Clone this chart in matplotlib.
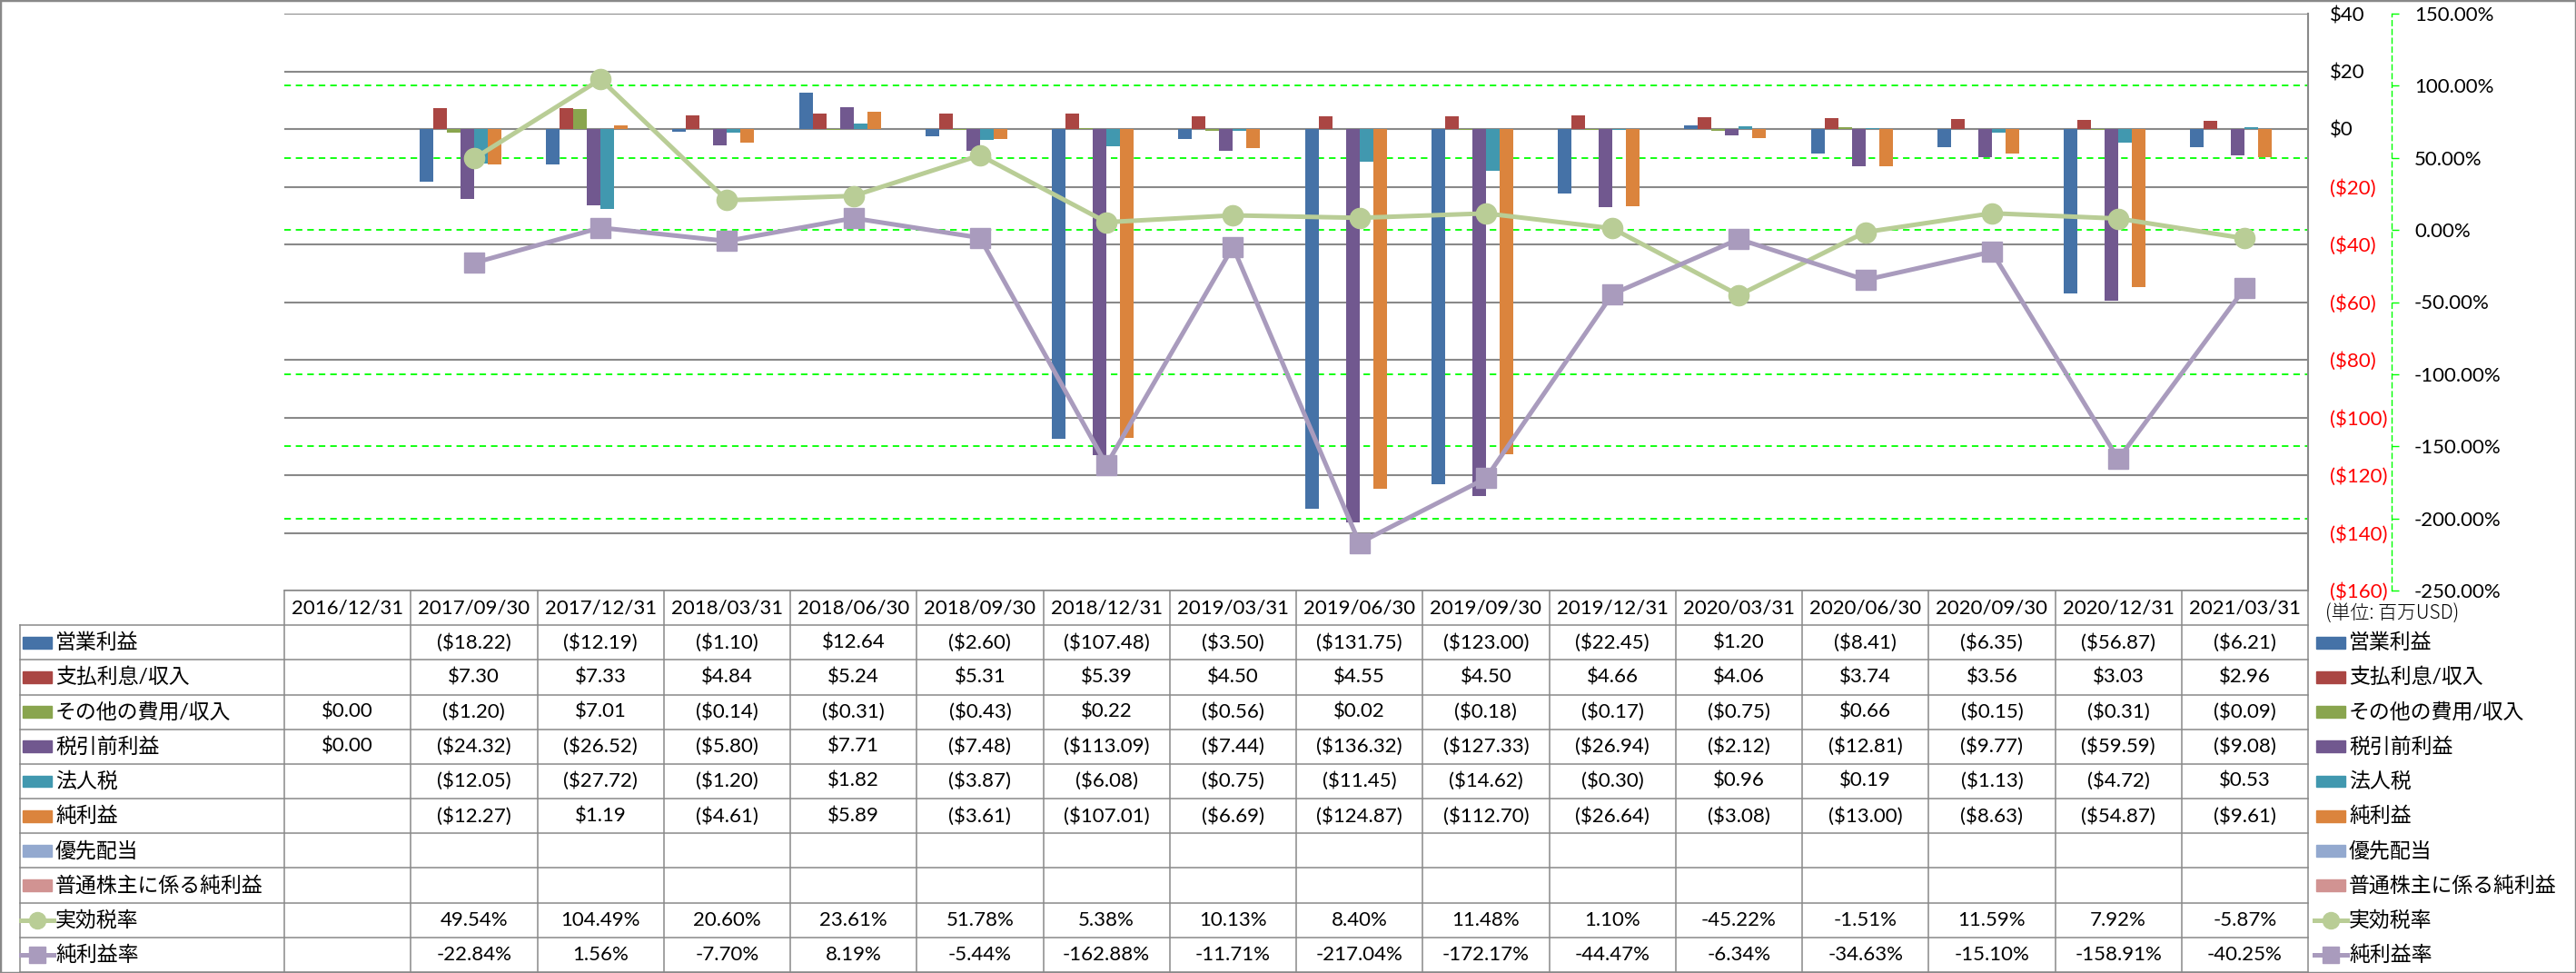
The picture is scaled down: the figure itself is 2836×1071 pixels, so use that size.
import numpy as np
import matplotlib.pyplot as plt
import matplotlib.transforms as mtransforms
from matplotlib.patches import Rectangle
from matplotlib.lines import Line2D

plt.rcParams['font.family'] = ['Lato', 'Noto Sans CJK JP']

# ---- data (millions USD) ----
dates = ["2016/12/31", "2017/09/30", "2017/12/31", "2018/03/31", "2018/06/30",
         "2018/09/30", "2018/12/31", "2019/03/31", "2019/06/30", "2019/09/30",
         "2019/12/31", "2020/03/31", "2020/06/30", "2020/09/30", "2020/12/31",
         "2021/03/31"]
op_income = [None, -18.22, -12.19, -1.10, 12.64, -2.60, -107.48, -3.50, -131.75,
             -123.00, -22.45, 1.20, -8.41, -6.35, -56.87, -6.21]
interest = [None, 7.30, 7.33, 4.84, 5.24, 5.31, 5.39, 4.50, 4.55, 4.50, 4.66,
            4.06, 3.74, 3.56, 3.03, 2.96]
other = [0.00, -1.20, 7.01, -0.14, -0.31, -0.43, 0.22, -0.56, 0.02, -0.18, -0.17,
         -0.75, 0.66, -0.15, -0.31, -0.09]
pretax = [0.00, -24.32, -26.52, -5.80, 7.71, -7.48, -113.09, -7.44, -136.32,
          -127.33, -26.94, -2.12, -12.81, -9.77, -59.59, -9.08]
tax = [None, -12.05, -27.72, -1.20, 1.82, -3.87, -6.08, -0.75, -11.45, -14.62,
       -0.30, 0.96, 0.19, -1.13, -4.72, 0.53]
net_income = [None, -12.27, 1.19, -4.61, 5.89, -3.61, -107.01, -6.69, -124.87,
              -112.70, -26.64, -3.08, -13.00, -8.63, -54.87, -9.61]
pref_div = [None] * 16
common_ni = [None] * 16
eff_tax_rate = [None, 49.54, 104.49, 20.60, 23.61, 51.78, 5.38, 10.13, 8.40, 11.48,
                1.10, -45.22, -1.51, 11.59, 7.92, -5.87]
net_margin = [None, -22.84, 1.56, -7.70, 8.19, -5.44, -162.88, -11.71, -217.04,
              -172.17, -44.47, -6.34, -34.63, -15.10, -158.91, -40.25]

bar_series = [
    ("営業利益", op_income, "#4572A7"),
    ("支払利息/収入", interest, "#AA4643"),
    ("その他の費用/収入", other, "#89A54E"),
    ("税引前利益", pretax, "#71588F"),
    ("法人税", tax, "#4198AF"),
    ("純利益", net_income, "#DB843D"),
    ("優先配当", pref_div, "#93A9CF"),
    ("普通株主に係る純利益", common_ni, "#D19392"),
]
line_series = [
    ("実効税率", eff_tax_rate, "#B9CD96", "o"),
    ("純利益率", net_margin, "#A99BBD", "s"),
]


def arr(v):
    return np.array([np.nan if a is None else a for a in v], dtype=float)


def money(v):
    if v is None:
        return ""
    return f"(${-v:.2f})" if v < 0 else f"${v:.2f}"


def pct(v):
    return "" if v is None else f"{v:.2f}%"


W, H = 2836, 1071
fig = plt.figure(figsize=(W / 100, H / 100), dpi=100)


def box(x0, y0, x1, y1):
    return [x0 / W, 1 - y1 / H, (x1 - x0) / W, (y1 - y0) / H]


GRID = "#898989"
PLOT_L, PLOT_R = 313, 2541
n = len(dates)
x = np.arange(n)
cat_px = (PLOT_R - PLOT_L) / n

ax = fig.add_axes(box(PLOT_L, 15, PLOT_R, 650))
ax2 = ax.twinx()

bw = 1 / 9.28
for k, (name, vals, col) in enumerate(bar_series):
    ax.bar(x + (k - 3.5) * bw, arr(vals), bw, color=col, zorder=2)

ax.set_xlim(-0.5, n - 0.5)
ax.set_ylim(-160, 40)
dticks = np.arange(-160, 41, 20)
ax.set_yticks(dticks, labels=[f"(${-t})" if t < 0 else f"${t}" for t in dticks])
ax.yaxis.tick_right()
ax.tick_params(axis="y", length=0, pad=17, labelsize=16)
for lab, t in zip(ax.get_yticklabels(), dticks):
    lab.set_color("red" if t < 0 else "black")
ax.set_xticks([])
ax.grid(axis="y", color=GRID, lw=1.5, zorder=0)
for s in ("left", "top", "bottom"):
    ax.spines[s].set_visible(False)
ax.spines["right"].set_color(GRID)
ax.spines["right"].set_linewidth(1.5)

ax2.set_ylim(-250, 150)
pticks = np.arange(-250, 151, 50)
ax2.set_yticks(pticks, labels=[f"{t:.2f}%" for t in pticks])
for lab, t in zip(ax2.get_yticklabels(), pticks):
    lab.set_color("red" if t < 0 else "black")
ax2.tick_params(axis="y", length=6, width=1, color="#00FF00", pad=12, labelsize=16)
ax2.spines["right"].set_position(("outward", 92 * 0.72))
ax2.spines["right"].set_color("#00FF00")
ax2.spines["right"].set_linestyle((0, (4, 3)))
ax2.spines["right"].set_linewidth(1)
for s in ("left", "top", "bottom"):
    ax2.spines[s].set_visible(False)

# secondary gridlines drawn behind the bars
trans = mtransforms.blended_transform_factory(ax.transAxes, ax2.transData)
for t in pticks:
    ax.add_line(Line2D([0, 1], [t, t], transform=trans, color="#00FF00",
                       lw=1.3, ls=(0, (4, 3)), zorder=1))

for name, vals, col, mk in line_series:
    ax2.plot(x, arr(vals), color=col, lw=3.6, marker=mk, ms=16, mfc=col, mec=col,
             zorder=3)

# ---- data table ----
tx = fig.add_axes(box(22, 650, PLOT_R, 1070))
xl = -0.5 - (PLOT_L - 22) / cat_px
tx.set_xlim(xl, n - 0.5)
tx.set_ylim(11, 0)
tx.axis("off")


def ux(px):
    return (px - PLOT_L) / cat_px - 0.5


lk = dict(color=GRID, lw=1.1, clip_on=False)
tx.plot([-0.5, n - 0.5], [0, 0], **lk)
for r in range(1, 12):
    tx.plot([xl, n - 0.5], [r, r], **lk)
tx.plot([xl, xl], [1, 11], **lk)
for j in range(n + 1):
    tx.plot([j - 0.5, j - 0.5], [0, 11], **lk)

for i, d in enumerate(dates):
    tx.text(i, 0.5, d, ha="center", va="center", fontsize=16)

rows = [(nm, v, c, None) for nm, v, c in bar_series] + list(line_series)
for r, (name, vals, col, mk) in enumerate(rows, start=1):
    fmt = money if mk is None else pct
    for i, v in enumerate(vals):
        tx.text(i, r + 0.5, fmt(v), ha="center", va="center", fontsize=16)
    for x0, x1, xt in ((25, 57, 61), (2550, 2582, 2586)):
        if mk is None:
            tx.add_patch(Rectangle((ux(x0), r + 0.5 - 0.17), ux(x1) - ux(x0), 0.34,
                                   color=col, clip_on=False))
        else:
            tx.add_line(Line2D([ux(x0 - 2), ux(x1 + 2)], [r + 0.5, r + 0.5], color=col,
                               lw=3.6, clip_on=False))
            tx.plot([(ux(x0) + ux(x1)) / 2], [r + 0.5], marker=mk, ms=13, color=col,
                    clip_on=False)
        tx.text(ux(xt), r + 0.5, name, ha="left", va="center", fontsize=16.5,
                clip_on=False)

fig.text(2560 / W, 1 - 676 / H, "(単位: 百万USD)", ha="left", va="center",
         fontsize=15, family=["Noto Sans CJK JP"], fontweight="light")

fig.add_artist(Rectangle((0, 0), 1, 1, transform=fig.transFigure, fill=False,
                         ec=GRID, lw=2.5))

fig.savefig("out.png", dpi=100)
